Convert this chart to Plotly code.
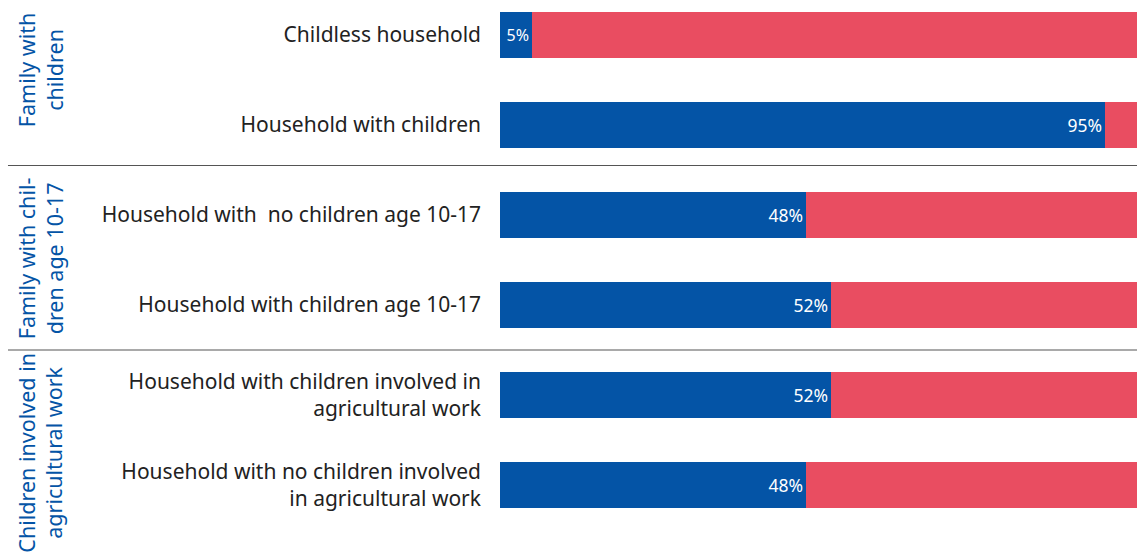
import plotly.graph_objects as go

# Category labels (top to bottom) and shares in percent
categories = [
    "Childless household",
    "Household with children",
    "Household with  no children age 10-17",
    "Household with children age 10-17",
    "Household with children involved in<br>agricultural work",
    "Household with no children involved<br>in agricultural work",
]
share_blue = [5, 95, 48, 52, 52, 48]
share_red = [95, 5, 52, 48, 48, 52]
group_titles = [
    "Family with<br>children",
    "Family with chil-<br>dren age 10-17",
    "Children involved in<br>agricultural work",
]
group_centres = [0.39, 2.48, 4.64]
separators = [1.45, 3.5]

BLUE = "#0454A6"
RED = "#E94D61"
FONT = "Noto Sans"

ypos = list(range(len(categories)))
label_sizes = [16 if v < 10 else 17.5 for v in share_blue]

fig = go.Figure()
fig.add_trace(go.Bar(
    y=ypos, x=share_blue, orientation="h",
    marker=dict(color=BLUE, line=dict(width=0)),
    text=[f"{v}%" for v in share_blue],
    textposition="inside", insidetextanchor="end",
    constraintext="none", cliponaxis=False,
    textfont=dict(color="white", size=label_sizes, family=FONT),
    width=0.51, hoverinfo="skip",
))
fig.add_trace(go.Bar(
    y=ypos, x=share_red, orientation="h",
    marker=dict(color=RED, line=dict(width=0)),
    width=0.51, hoverinfo="skip",
))

shapes = [
    dict(type="line", xref="paper", yref="y", x0=-0.7724, x1=1, y0=s, y1=s,
         line=dict(color="#555555", width=1.2))
    for s in separators
]
annotations = [
    dict(text=t, xref="paper", yref="y", x=-0.722, y=c, textangle=-90,
         showarrow=False, xanchor="center", yanchor="middle",
         font=dict(color=BLUE, size=21.5, family=FONT), align="center")
    for t, c in zip(group_titles, group_centres)
]

fig.update_layout(
    barmode="stack",
    width=1137, height=554,
    margin=dict(l=500, r=0, t=0, b=0),
    paper_bgcolor="white", plot_bgcolor="white",
    showlegend=False,
    bargap=0,
    shapes=shapes,
    annotations=annotations,
    xaxis=dict(range=[0, 100], visible=False, fixedrange=True),
    yaxis=dict(
        range=[5.767, -0.389],
        tickvals=ypos, ticktext=categories,
        tickfont=dict(size=21, color="#222222", family=FONT),
        ticks="", showgrid=False, zeroline=False, showline=False,
        ticklabelstandoff=18,
    ),
)

fig.write_html("out.html")
